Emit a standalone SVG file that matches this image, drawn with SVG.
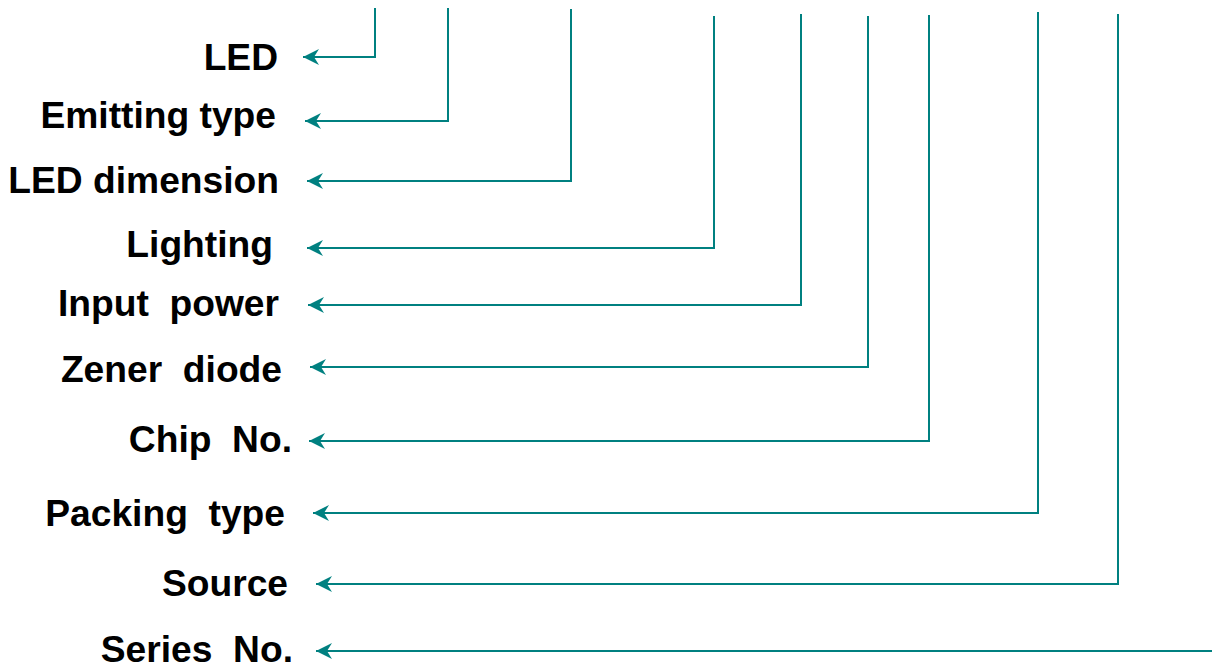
<svg xmlns="http://www.w3.org/2000/svg" width="1212" height="670" viewBox="0 0 1212 670">
<style>
.lbl{font-family:"Liberation Sans",Arial,sans-serif;font-weight:bold;font-size:37.2px;fill:#000;text-anchor:end;white-space:pre}
.conn{fill:none;stroke:#008080;stroke-width:2;marker-end:url(#arr)}
</style>
<defs>
<marker id="arr" markerUnits="userSpaceOnUse" markerWidth="18" markerHeight="18" viewBox="0 -9 18 18" refX="16" refY="0" orient="auto">
<path d="M16,0 L0,-8 L5,0 L0,8 z" fill="#008080"/>
</marker>
</defs>
<rect width="1212" height="670" fill="#fff"/>
<g id="connectors">
<path class="conn" d="M375,8 V57 H303"/>
<path class="conn" d="M448,8 V121 H305"/>
<path class="conn" d="M571,9 V181 H307"/>
<path class="conn" d="M714,16 V248 H307"/>
<path class="conn" d="M801,14 V305 H308"/>
<path class="conn" d="M868,16 V367 H310"/>
<path class="conn" d="M929,15 V441 H309"/>
<path class="conn" d="M1038,12 V513 H313"/>
<path class="conn" d="M1118,14 V584 H316"/>
<path class="conn" d="M1212,651 H316"/>
</g>
<g id="n-led"><text class="lbl" x="278" y="70">LED</text></g>
<g id="n-emitting"><text class="lbl" x="276" y="128">Emitting type</text></g>
<g id="n-dimension"><text class="lbl" x="279" y="193">LED dimension</text></g>
<g id="n-lighting"><text class="lbl" x="273" y="257">Lighting</text></g>
<g id="n-power"><text class="lbl" x="279" y="316">Input  power</text></g>
<g id="n-zener"><text class="lbl" x="282" y="382">Zener  diode</text></g>
<g id="n-chip"><text class="lbl" x="292" y="452">Chip  No.</text></g>
<g id="n-packing"><text class="lbl" x="285" y="526">Packing  type</text></g>
<g id="n-source"><text class="lbl" x="288" y="596">Source</text></g>
<g id="n-series"><text class="lbl" x="293" y="662">Series  No.</text></g>
</svg>
